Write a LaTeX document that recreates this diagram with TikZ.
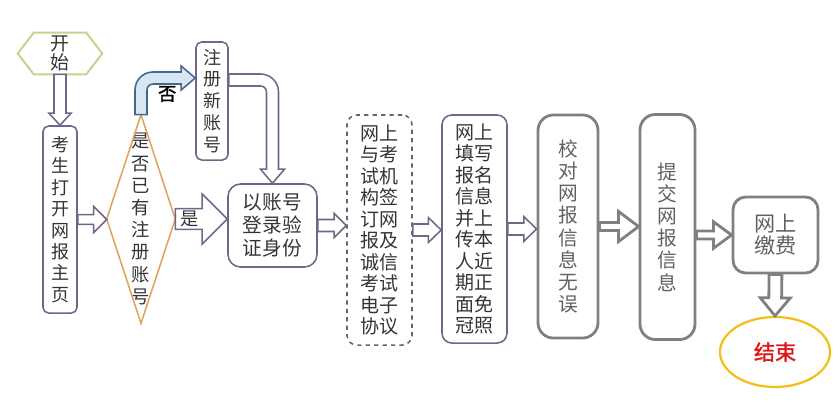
\documentclass[tikz,border=0pt]{standalone}
\usepackage{fontspec}
\setmainfont[AutoFakeBold=1.5]{Noto Sans CJK SC}
\usetikzlibrary{calc,shapes.geometric}
\definecolor{slateline}{RGB}{112,102,140}
\definecolor{olivehex}{RGB}{196,212,140}
\definecolor{amberline}{RGB}{222,164,96}
\definecolor{steelblue}{RGB}{72,102,140}
\definecolor{paleblue}{RGB}{214,230,242}
\definecolor{greyline}{RGB}{128,128,128}
\definecolor{dashline}{RGB}{100,100,110}
\definecolor{greytext}{RGB}{96,96,96}
\definecolor{inkdark}{RGB}{52,52,52}
\definecolor{goldline}{RGB}{242,192,24}
\definecolor{endred}{RGB}{222,24,24}

% hollow block arrow: [style]{from}{to}{half shaft}{half head}{head length}
\newcommand{\hollowarrow}[6][harrow]{%
  \path (#2) coordinate (ha) (#3) coordinate (hb);
  \path ($(hb)!#6!(ha)$) coordinate (hc);
  \draw[#1] ($(ha)!#4!90:(hb)$) -- ($(hc)!#4!90:(hb)$) -- ($(hc)!#5!90:(hb)$) -- (hb)
    -- ($(hc)!#5!-90:(hb)$) -- ($(hc)!#4!-90:(hb)$) -- ($(ha)!#4!-90:(hb)$) -- cycle;}

\begin{document}
\begin{tikzpicture}[x=0.025cm,y=-0.025cm,
    stepbox/.style={draw=slateline,line width=1.1pt,rounded corners=4pt,align=center,
                    inner sep=0pt,text=inkdark,font=\fontsize{12.8}{15.2}\selectfont},
    greybox/.style={draw=greyline,line width=2pt,rounded corners=11pt,align=center,
                    inner sep=0pt,text=greytext,font=\fontsize{14}{15.8}\selectfont},
    harrow/.style={draw=slateline,line width=1.1pt,fill=white},
    garrow/.style={draw=greyline,line width=2pt,fill=white}]

  \useasboundingbox (0,0) rectangle (840,404);

  % start
  \node[align=center,inner sep=0pt,minimum width=2.1cm,minimum height=1.025cm,
        text=inkdark,font=\fontsize{13.5}{13.5}\selectfont] (start) at (60,53.5) {开\\始};
  \draw[olivehex,line width=1.4pt] (start.west) -- ([xshift=0.4cm]start.north west)
    -- ([xshift=-0.4cm]start.north east) -- (start.east)
    -- ([xshift=-0.4cm]start.south east) -- ([xshift=0.4cm]start.south west) -- cycle;

  \node[stepbox,minimum width=0.85cm,minimum height=4.675cm] (open) at (60,219.5)
    {考\\生\\打\\开\\网\\报\\主\\页};

  % decision
  \node[align=center,inner sep=0pt,minimum width=1.7cm,minimum height=5.2cm,
        text=inkdark,font=\fontsize{13}{15.8}\selectfont] (has) at (141,219)
    {是\\否\\已\\有\\注\\册\\账\\号};
  \draw[amberline,line width=1.1pt] (has.north) -- (has.east) -- (has.south) -- (has.west) -- cycle;

  \node[stepbox,minimum width=0.8cm,minimum height=2.95cm,
        font=\fontsize{12.8}{15.6}\selectfont] (reg) at (212,101) {注\\册\\新\\账\\号};

  \node[stepbox,rounded corners=9pt,minimum width=2.225cm,minimum height=2.075cm,
        font=\fontsize{14}{16.5}\selectfont] (login) at (272.5,225.5) {以账号\\登录验\\证身份};

  \node[stepbox,draw=dashline,dashed,rounded corners=7pt,minimum width=1.625cm,
        minimum height=5.75cm,font=\fontsize{13.5}{15.3}\selectfont] (sign) at (379.5,230)
    {网上\\与考\\试机\\构签\\订网\\报及\\诚信\\考试\\电子\\协议};

  \node[stepbox,rounded corners=7pt,minimum width=1.625cm,minimum height=5.7cm,
        font=\fontsize{13.5}{15.3}\selectfont] (upload) at (474.5,229)
    {网上\\填写\\报名\\信息\\并上\\传本\\人近\\期正\\面免\\冠照};

  \node[greybox,minimum width=1.5cm,minimum height=5.575cm] (check) at (568,226.5)
    {校\\对\\网\\报\\信\\息\\无\\误};
  \node[greybox,minimum width=1.375cm,minimum height=5.625cm] (submit) at (667.5,227)
    {提\\交\\网\\报\\信\\息};
  \node[greybox,rounded corners=9pt,minimum width=2.125cm,minimum height=1.9cm,
        font=\fontsize{15}{15.6}\selectfont] (pay) at (775.5,235) {网上\\缴费};

  \node[ellipse,draw=goldline,line width=1.6pt,minimum width=2.75cm,minimum height=1.75cm,
        text=endred,font=\fontsize{15}{18}\selectfont\bfseries] (done) at (775,352) {结束};

  % connectors
  \hollowarrow{start.south}{open.north}{0.15cm}{0.275cm}{0.3cm}
  \hollowarrow{open.east}{open.east -| has.west}{0.12cm}{0.325cm}{0.325cm}
  \hollowarrow{has.east}{has.east -| login.west}{0.26cm}{0.625cm}{0.625cm}
  \node[text=inkdark,font=\fontsize{13}{15}\selectfont] (yes) at ($(ha)!0.27!(hb)$) {是};

  \coordinate (noend) at ([yshift=0.575cm]reg.west);
  \draw[steelblue,fill=paleblue,line width=1.1pt] let \p1=(has.north), \p2=(noend) in
    (\x1-0.15cm,\y1) -- (\x1-0.15cm,\y2-0.3cm) to[out=90,in=180] (\x1+0.3cm,\y2+0.15cm)
    -- (\x2-0.35cm,\y2+0.15cm) -- (\x2-0.35cm,\y2+0.3cm) -- (\p2)
    -- (\x2-0.35cm,\y2-0.3cm) -- (\x2-0.35cm,\y2-0.15cm) -- (\x1+0.3cm,\y2-0.15cm)
    to[out=180,in=90] (\x1+0.15cm,\y2-0.3cm) -- (\x1+0.15cm,\y1) -- cycle;
  \node[text=black,font=\fontsize{13}{15}\selectfont\bfseries] (no) at ([xshift=-0.7cm,yshift=-0.4cm]noend) {否};

  \coordinate (regout) at ([yshift=0.525cm]reg.east);
  \draw[harrow] let \p1=(regout), \p2=(login.north) in
    (\x1,\y1+0.15cm) -- (\x2-0.3cm,\y1+0.15cm) to[out=0,in=90] (\x2+0.15cm,\y1-0.3cm)
    -- (\x2+0.15cm,\y2+0.35cm) -- (\x2+0.3cm,\y2+0.35cm) -- (\p2)
    -- (\x2-0.3cm,\y2+0.35cm) -- (\x2-0.15cm,\y2+0.35cm) -- (\x2-0.15cm,\y1-0.3cm)
    to[out=90,in=0] (\x2-0.3cm,\y1-0.15cm) -- (\x1,\y1-0.15cm) -- cycle;

  \hollowarrow{login.east}{login.east -| sign.west}{0.15cm}{0.3cm}{0.3cm}
  \hollowarrow{sign.east}{sign.east -| upload.west}{0.15cm}{0.31cm}{0.32cm}
  \hollowarrow{upload.east}{upload.east -| check.west}{0.15cm}{0.31cm}{0.32cm}
  \hollowarrow[garrow]{check.east}{check.east -| submit.west}{0.1cm}{0.375cm}{0.5cm}
  \hollowarrow[garrow]{submit.east |- pay.west}{pay.west}{0.1cm}{0.33cm}{0.45cm}
  \hollowarrow[garrow]{pay.south}{done.north}{0.16cm}{0.375cm}{0.45cm}
\end{tikzpicture}
\end{document}
